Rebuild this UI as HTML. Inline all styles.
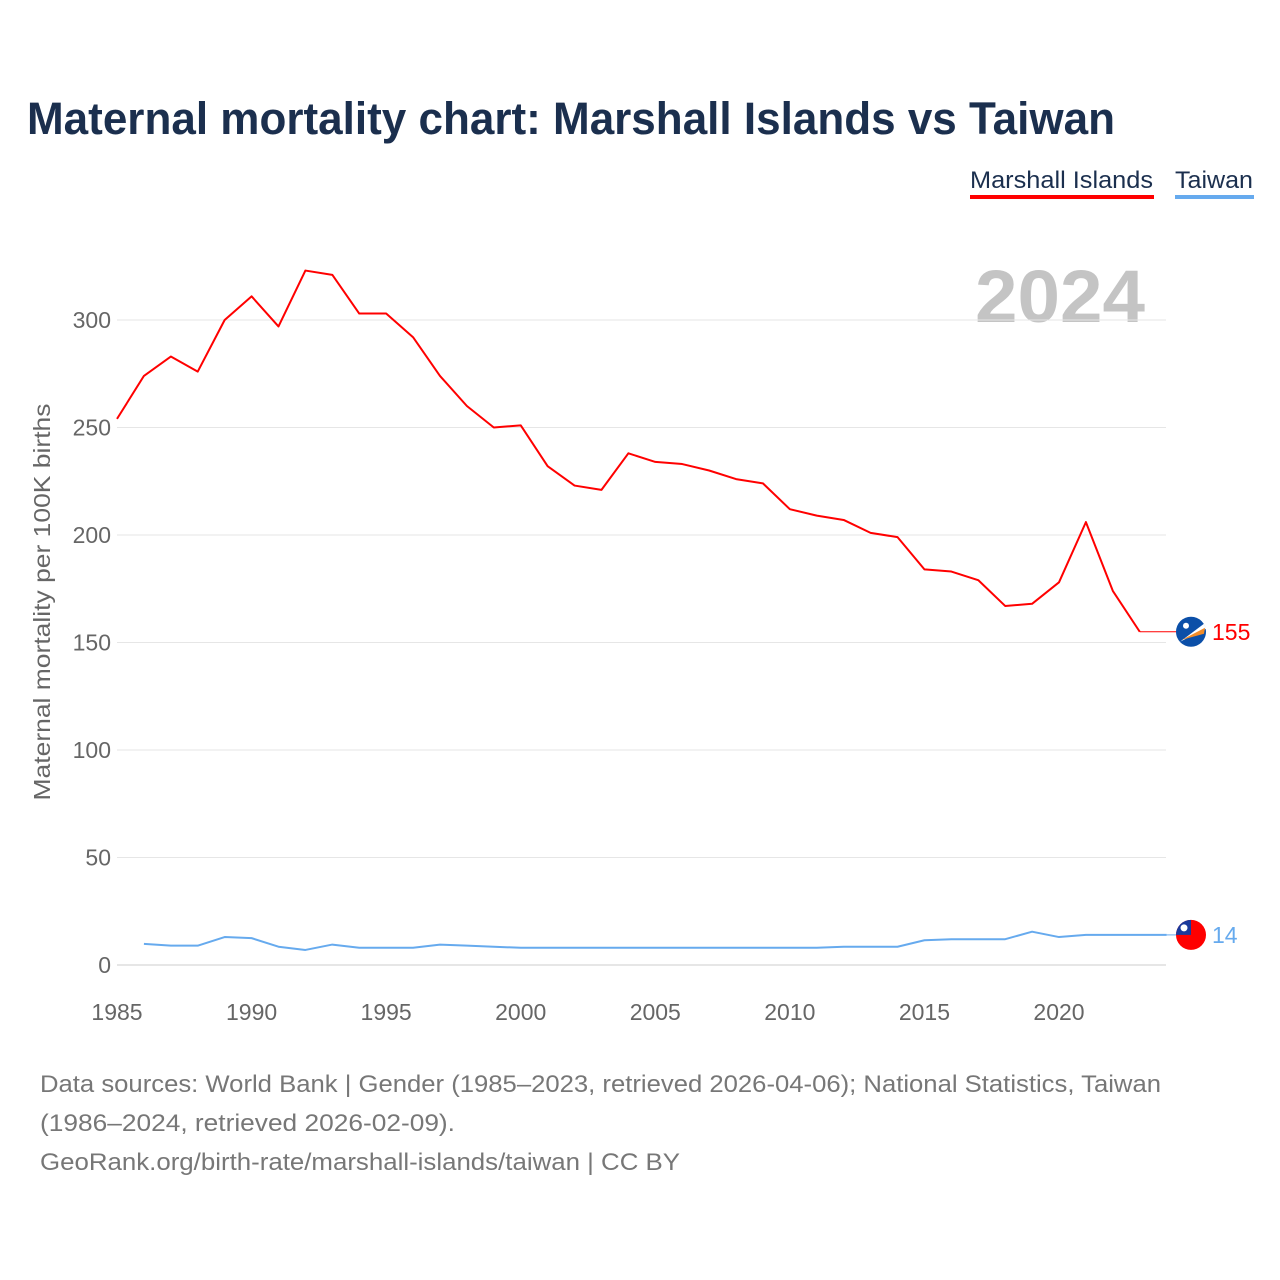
<!DOCTYPE html>
<html><head><meta charset="utf-8"><style>
body{margin:0;background:#fff;font-family:"Liberation Sans",sans-serif;}
#wrap{position:relative;width:1280px;height:1280px;overflow:hidden;}
</style></head><body>
<div id="wrap">
<svg id="svg" width="1280" height="1280">
<defs><clipPath id="twc"><circle cx="1191" cy="935" r="15"/></clipPath></defs>
<text x="27" y="134" font-size="45" font-weight="bold" fill="#1b2f4e" textLength="1088" lengthAdjust="spacingAndGlyphs">Maternal mortality chart: Marshall Islands vs Taiwan</text>
<g>
<text x="970" y="188" font-size="24" fill="#1b2f4e" textLength="183" lengthAdjust="spacingAndGlyphs">Marshall Islands</text>
<rect x="970" y="195" width="184" height="4" fill="#ff0000"/>
<text x="1175" y="188" font-size="24" fill="#1b2f4e" textLength="78" lengthAdjust="spacingAndGlyphs">Taiwan</text>
<rect x="1175" y="195" width="79" height="4" fill="#66aaee"/>
</g>
<text x="1145" y="322" font-size="74" font-weight="bold" fill="#c4c4c4" text-anchor="end" textLength="170" lengthAdjust="spacingAndGlyphs">2024</text>
<g id="grid"></g><g id="ylab"></g><g id="xlab"></g><g id="lines"></g>
<text transform="translate(50,602) rotate(-90)" font-size="23" fill="#666" text-anchor="middle" textLength="397" lengthAdjust="spacingAndGlyphs">Maternal mortality per 100K births</text>
<g font-size="24" fill="#777">
<text x="40" y="1092" textLength="1121" lengthAdjust="spacingAndGlyphs">Data sources: World Bank | Gender (1985–2023, retrieved 2026-04-06); National Statistics, Taiwan</text>
<text x="40" y="1131" textLength="415" lengthAdjust="spacingAndGlyphs">(1986–2024, retrieved 2026-02-09).</text>
<text x="40" y="1170" textLength="640" lengthAdjust="spacingAndGlyphs">GeoRank.org/birth-rate/marshall-islands/taiwan | CC BY</text>
</g>
</svg>
</div>
<script>
const yTicks=[0,50,100,150,200,250,300];
const xTicks=[1985,1990,1995,2000,2005,2010,2015,2020];
const mhYears=[1985,1986,1987,1988,1989,1990,1991,1992,1993,1994,1995,1996,1997,1998,1999,2000,2001,2002,2003,2004,2005,2006,2007,2008,2009,2010,2011,2012,2013,2014,2015,2016,2017,2018,2019,2020,2021,2022,2023];
const mhValues=[254,274,283,276,300,311,297,323,321,303,303,292,274,260,250,251,232,223,221,238,234,233,230,226,224,212,209,207,201,199,184,183,179,167,168,178,206,174,155];
const twYears=[1986,1987,1988,1989,1990,1991,1992,1993,1994,1995,1996,1997,1998,1999,2000,2001,2002,2003,2004,2005,2006,2007,2008,2009,2010,2011,2012,2013,2014,2015,2016,2017,2018,2019,2020,2021,2022,2023,2024];
const twValues=[9.8,9,9,13,12.5,8.5,7,9.5,8,8,8,9.5,9,8.5,8,8,8,8,8,8,8,8,8,8,8,8,8.5,8.5,8.5,11.5,12,12,12,15.5,13,14,14,14,14];
const mhLabel="155", twLabel="14";
const NS="http://www.w3.org/2000/svg";
const X=v=>117+(v-1985)*(1059-117)/35;
const Y=v=>965-v*2.15;
function mk(t,a,p){const e=document.createElementNS(NS,t);for(const k in a)e.setAttribute(k,a[k]);document.getElementById(p).appendChild(e);return e;}
yTicks.forEach(t=>{
 const l=mk('line',{x1:117,x2:1166,y1:Y(t),y2:Y(t),stroke:t===0?'#ccc':'#e6e6e6','stroke-width':1},'grid');
 
 
 const tx=mk('text',{x:111,y:Y(t)+8,'font-size':23,fill:'#666','text-anchor':'end'},'ylab');tx.textContent=t;
 
 
});
xTicks.forEach(t=>{
 const tx=mk('text',{x:X(t),y:1020,'font-size':23,fill:'#666','text-anchor':'middle'},'xlab');tx.textContent=t;
 
 
});
function series(ys,vs,col,name,lab){
 const pts=ys.map((y,i)=>X(y)+','+Y(vs[i])).join(' ');
 const p=mk('polyline',{points:pts,fill:'none',stroke:col,'stroke-width':2,'stroke-linejoin':'round'},'lines');
 
 
 const lv=vs[vs.length-1],ly=Y(lv);
 const c=mk('line',{x1:X(ys[ys.length-1]),x2:1180,y1:ly,y2:ly,stroke:col,'stroke-width':1},'lines');
 
 
 const f=mk('circle',{cx:1191,cy:ly,r:15,fill:name==='taiwan'?'#fe0000':'#0b4fa8'},'lines');
 
 
 if(name==='taiwan'){
  document.querySelector('#twc circle').setAttribute('cy',ly);
  const r=mk('rect',{x:1176,y:ly-15,width:15,height:15,fill:'#1a3a9c','clip-path':'url(#twc)'},'lines');
  const s=mk('circle',{cx:1184,cy:ly-7,r:3.5,fill:'#fff'},'lines');}
 else{const s=mk('path',{d:`M1180,${ly+10} L1204,${ly-8} L1206,${ly-3} Z`,fill:'#fff'},'lines');
 const o=mk('path',{d:`M1182,${ly+8} L1205,${ly-4} L1204,${ly+2} Z`,fill:'#f28c28'},'lines');
 const st=mk('circle',{cx:1186,cy:ly-6,r:3,fill:'#fff'},'lines');}
 const t=mk('text',{x:1212,y:ly+8,'font-size':23,fill:col},'lines');t.textContent=lab;
 
 
}
series(mhYears,mhValues,'#ff0000','marshall-islands',mhLabel);
series(twYears,twValues,'#66aaee','taiwan',twLabel);
</script>
</body></html>
